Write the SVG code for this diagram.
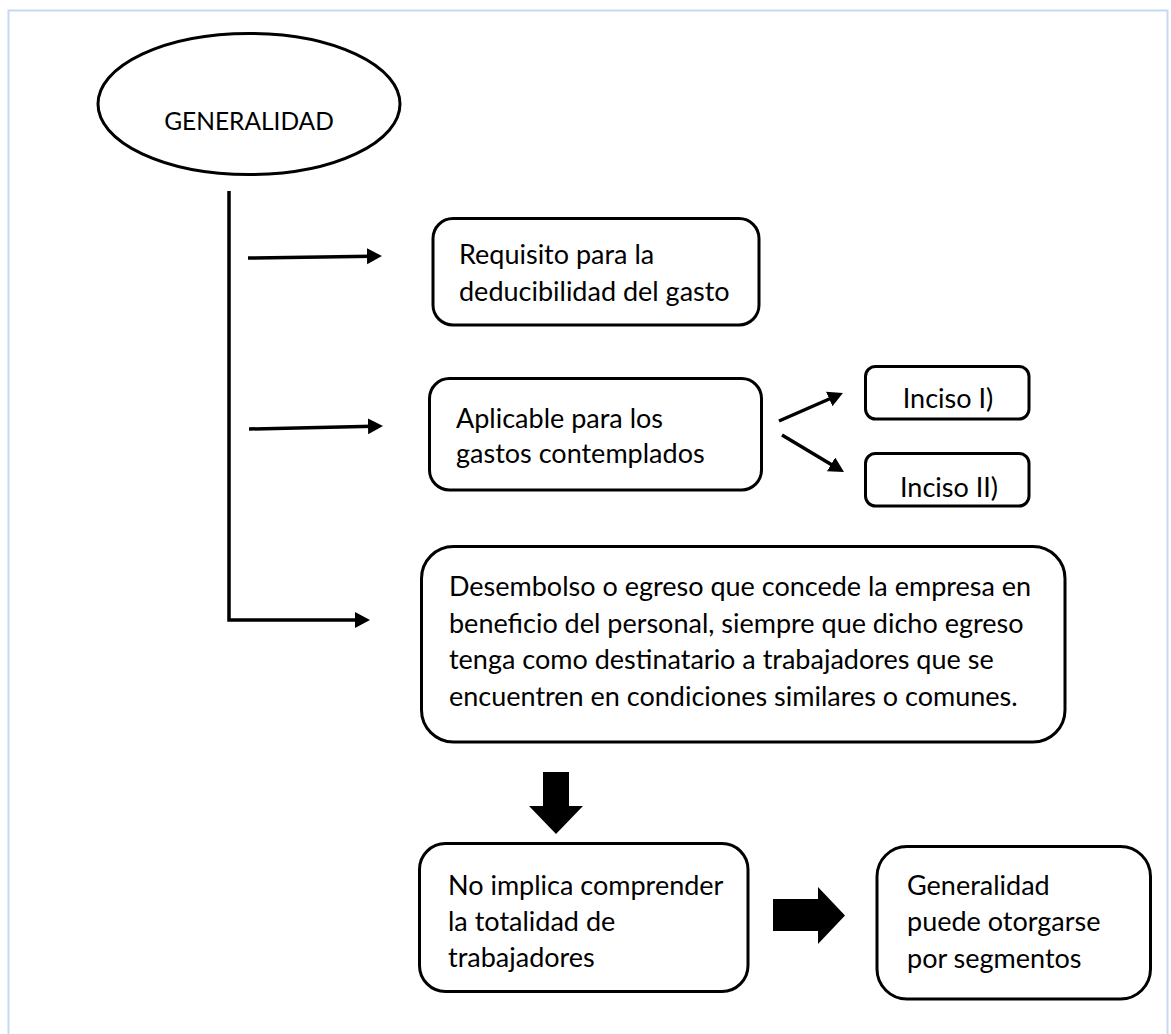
<svg xmlns="http://www.w3.org/2000/svg" width="1171" height="1034" viewBox="0 0 1171 1034">
  <defs>
    <marker id="arrowhead" markerUnits="userSpaceOnUse" markerWidth="16" markerHeight="17" refX="5" refY="8" orient="auto">
      <path d="M0,0 L15,8 L0,16 Z" fill="#000"/>
    </marker>
    <style>
      .node { fill: #fff; stroke: #000; stroke-width: 3; }
      .label { font-family: Lato, "Open Sans", "Liberation Sans", sans-serif; font-size: 27px; fill: #000; }
      .title { font-size: 24.5px; }
      .mid { text-anchor: middle; }
      .link { fill: none; stroke: #000; stroke-width: 3.5; marker-end: url(#arrowhead); }
      .block { fill: #000; }
    </style>
  </defs>

  <rect x="0" y="0" width="1171" height="1034" fill="#fff"/>
  <!-- page frame -->
  <rect x="8.5" y="10.5" width="1159" height="1040" fill="none" stroke="#c6d9f1" stroke-width="2"/>

  <!-- connectors -->
  <g id="connectors">
    <path class="link" d="M229,191 V620 H360"/>
    <line class="link" x1="248" y1="258" x2="372" y2="256.2"/>
    <line class="link" x1="249" y1="429" x2="373" y2="426.2"/>
    <line class="link" x1="779" y1="421" x2="833.8" y2="397"/>
    <line class="link" x1="782" y1="435" x2="835.4" y2="466.9"/>
    <polygon class="block" points="543,772 569,772 569,806 583,806 556,834 529,806 543,806"/>
    <polygon class="block" points="773,899 818,899 818,887 845,915.5 818,944 818,931 773,931"/>
  </g>

  <g id="generalidad">
    <ellipse class="node" cx="249" cy="104" rx="151" ry="70.5"/>
    <text class="label title mid" x="249" y="130">GENERALIDAD</text>
  </g>

  <g id="requisito">
    <rect class="node" x="433" y="218.5" width="326" height="106.5" rx="20"/>
    <text class="label" x="459" y="264">Requisito para la</text>
    <text class="label" x="459" y="301">deducibilidad del gasto</text>
  </g>

  <g id="aplicable">
    <rect class="node" x="429.5" y="378.5" width="332" height="111.5" rx="20"/>
    <text class="label" x="456" y="428">Aplicable para los</text>
    <text class="label" x="456" y="463">gastos contemplados</text>
  </g>

  <g id="inciso-1">
    <rect class="node" x="865.5" y="366.5" width="163.5" height="52.5" rx="10"/>
    <text class="label mid" x="948" y="408">Inciso I)</text>
  </g>

  <g id="inciso-2">
    <rect class="node" x="865.5" y="453.5" width="163.5" height="52.5" rx="10"/>
    <text class="label mid" x="949" y="497">Inciso II)</text>
  </g>

  <g id="desembolso">
    <rect class="node" x="421.5" y="546.5" width="643.5" height="195.5" rx="32"/>
    <text class="label" x="449" y="596">Desembolso o egreso que concede la empresa en</text>
    <text class="label" x="449" y="632.5">beneficio del personal, siempre que dicho egreso</text>
    <text class="label" x="449" y="669">tenga como destinatario a trabajadores que se</text>
    <text class="label" x="449" y="705.5">encuentren en condiciones similares o comunes.</text>
  </g>

  <g id="no-implica">
    <rect class="node" x="419.5" y="843.5" width="328.5" height="148" rx="26"/>
    <text class="label" x="448" y="895">No implica comprender</text>
    <text class="label" x="448" y="931">la totalidad de</text>
    <text class="label" x="448" y="967">trabajadores</text>
  </g>

  <g id="segmentos">
    <rect class="node" x="877" y="846.5" width="273.5" height="152.5" rx="30"/>
    <text class="label" x="907" y="895">Generalidad</text>
    <text class="label" x="907" y="931">puede otorgarse</text>
    <text class="label" x="907" y="968">por segmentos</text>
  </g>
</svg>
